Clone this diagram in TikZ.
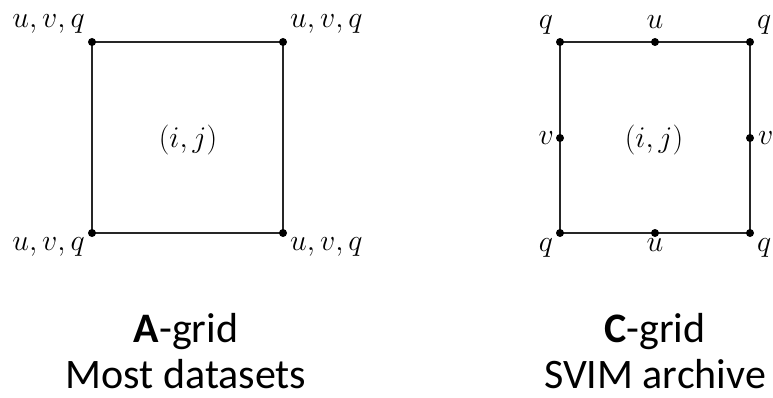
\documentclass[tikz,border=0pt]{standalone}
\usepackage{graphicx}
\usepackage{fontspec}
\newfontfamily\carlito{Carlito}
\newcommand{\gridlab}[1]{\scalebox{1.206}{\Huge$#1$}}
\begin{document}
\begin{tikzpicture}[x=1pt,y=-1pt,
  edge/.style={line width=1.6pt,black!85},
  pt/.style={circle,fill=black,inner sep=0pt,minimum size=8pt},
  lab/.style={inner sep=0pt},
  captxt/.style={inner sep=0pt,font=\carlito\fontsize{42}{46}\selectfont}]
\useasboundingbox (0,0) rectangle (773,398);
% A-grid
\coordinate (a1) at (92,42);
\coordinate (a2) at (283,42);
\coordinate (a3) at (283,233);
\coordinate (a4) at (92,233);
\draw[edge] (a1) -- (a2) -- (a3) -- (a4) -- cycle;
\foreach \p in {a1,a2,a3,a4} \node[pt] at (\p) {};
\node[lab,anchor=base east] (la1) at (85,28) {\gridlab{u,v,q}};
\node[lab,anchor=base west] (la2) at (290,28) {\gridlab{u,v,q}};
\node[lab,anchor=base east] (la4) at (85,250) {\gridlab{u,v,q}};
\node[lab,anchor=base west] (la3) at (290,250) {\gridlab{u,v,q}};
\node[lab] (ca) at (188,140) {\gridlab{(i,j)}};
% C-grid
\coordinate (c1) at (560,42);
\coordinate (c2) at (750,42);
\coordinate (c3) at (750,233);
\coordinate (c4) at (560,233);
\coordinate (cu1) at (655,42);
\coordinate (cu2) at (655,233);
\coordinate (cv1) at (560,138);
\coordinate (cv2) at (750,138);
\draw[edge] (c1) -- (c2) -- (c3) -- (c4) -- cycle;
\foreach \p in {c1,c2,c3,c4,cu1,cu2,cv1,cv2} \node[pt] at (\p) {};
\node[lab,anchor=base] (lq1) at (546,29) {\gridlab{q}};
\node[lab,anchor=base] (lu1) at (655,29) {\gridlab{u}};
\node[lab,anchor=base west] (lq2) at (757,29) {\gridlab{q}};
\node[lab,anchor=east] (lv1) at (554,138) {\gridlab{v}};
\node[lab,anchor=west] (lv2) at (758,138) {\gridlab{v}};
\node[lab,anchor=base] (lq4) at (546,251) {\gridlab{q}};
\node[lab,anchor=base] (lu2) at (655,251) {\gridlab{u}};
\node[lab,anchor=base west] (lq3) at (757,251) {\gridlab{q}};
\node[lab] (cc) at (654,140) {\gridlab{(i,j)}};
% captions
\node[captxt,anchor=base] (t1) at (186,342) {\textbf{A}-grid};
\node[captxt,anchor=base] (t2) at (186,388) {Most datasets};
\node[captxt,anchor=base] (t3) at (655,342) {\textbf{C}-grid};
\node[captxt,anchor=base] (t4) at (655,388) {SVIM archive};
\end{tikzpicture}
\end{document}
